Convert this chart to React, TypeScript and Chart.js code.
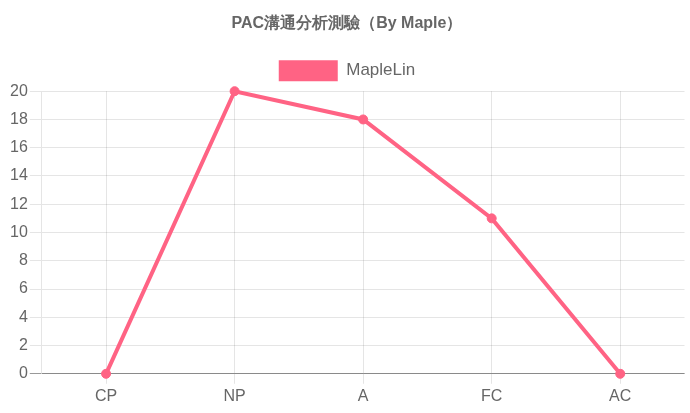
import React, { useEffect, useRef } from "react";
import { Chart, registerables } from "chart.js";

Chart.register(...registerables);

const categories = ["CP", "NP", "A", "FC", "AC"];
const seriesName = "MapleLin";
const seriesValues = [0, 20, 18, 11, 0];
const titleText = "PAC溝通分析測驗（By Maple）";

export default function App() {
  const ref = useRef<HTMLCanvasElement>(null);
  useEffect(() => {
    document.body.style.margin = "0";
    const ctx = ref.current!;
    const font = "'Liberation Sans', Arial, sans-serif";
    const chart = new Chart(ctx, {
      type: "line",
      data: {
        labels: categories,
        datasets: [
          {
            label: seriesName,
            data: seriesValues,
            borderColor: "rgb(255, 99, 132)",
            backgroundColor: "rgb(255, 99, 132)",
            pointBackgroundColor: "rgb(255, 99, 132)",
            pointBorderColor: "rgb(255, 99, 132)",
            borderWidth: 4,
            pointRadius: 4.5,
            pointBorderWidth: 1,
            tension: 0,
            fill: false,
            clip: false,
          },
        ],
      },
      options: {
        responsive: false,
        animation: false,
        devicePixelRatio: 1,
        layout: { padding: { left: 8, right: 4, top: 0, bottom: 4 } },
        plugins: {
          title: {
            display: true,
            text: titleText,
            color: "#666",
            font: { family: font, size: 16, weight: "bold" },
            padding: { top: 14, bottom: 17 },
          },
          legend: {
            display: true,
            labels: {
              color: "#666",
              boxWidth: 59,
              boxHeight: 21,
              padding: 10,
              font: { family: font, size: 17 },
              generateLabels: (c: any) =>
                Chart.defaults.plugins.legend.labels
                  .generateLabels(c)
                  .map((l: any) => ({ ...l, lineWidth: 0 })),
            },
          },
          tooltip: { enabled: false },
        },
        scales: {
          x: {
            offset: true,
            grid: {
              offset: false,
              color: "rgba(0,0,0,0.1)",
              tickLength: 10,
            },
            border: { color: "rgba(0,0,0,0.1)" },
            ticks: { color: "#666", font: { family: font, size: 16 } },
          },
          y: {
            min: 0,
            max: 20,
            grid: {
              color: (c: any) => (c.tick && c.tick.value === 0 ? "rgba(0,0,0,0.4)" : "rgba(0,0,0,0.1)"),
              tickLength: 12,
            },
            border: { color: "rgba(0,0,0,0.1)" },
            ticks: { stepSize: 2, color: "#666", font: { family: font, size: 16 }, padding: 2 },
          },
        },
      },
    });
    return () => chart.destroy();
  }, []);
  return <canvas ref={ref} width={690} height={413} style={{ display: "block" }} />;
}
